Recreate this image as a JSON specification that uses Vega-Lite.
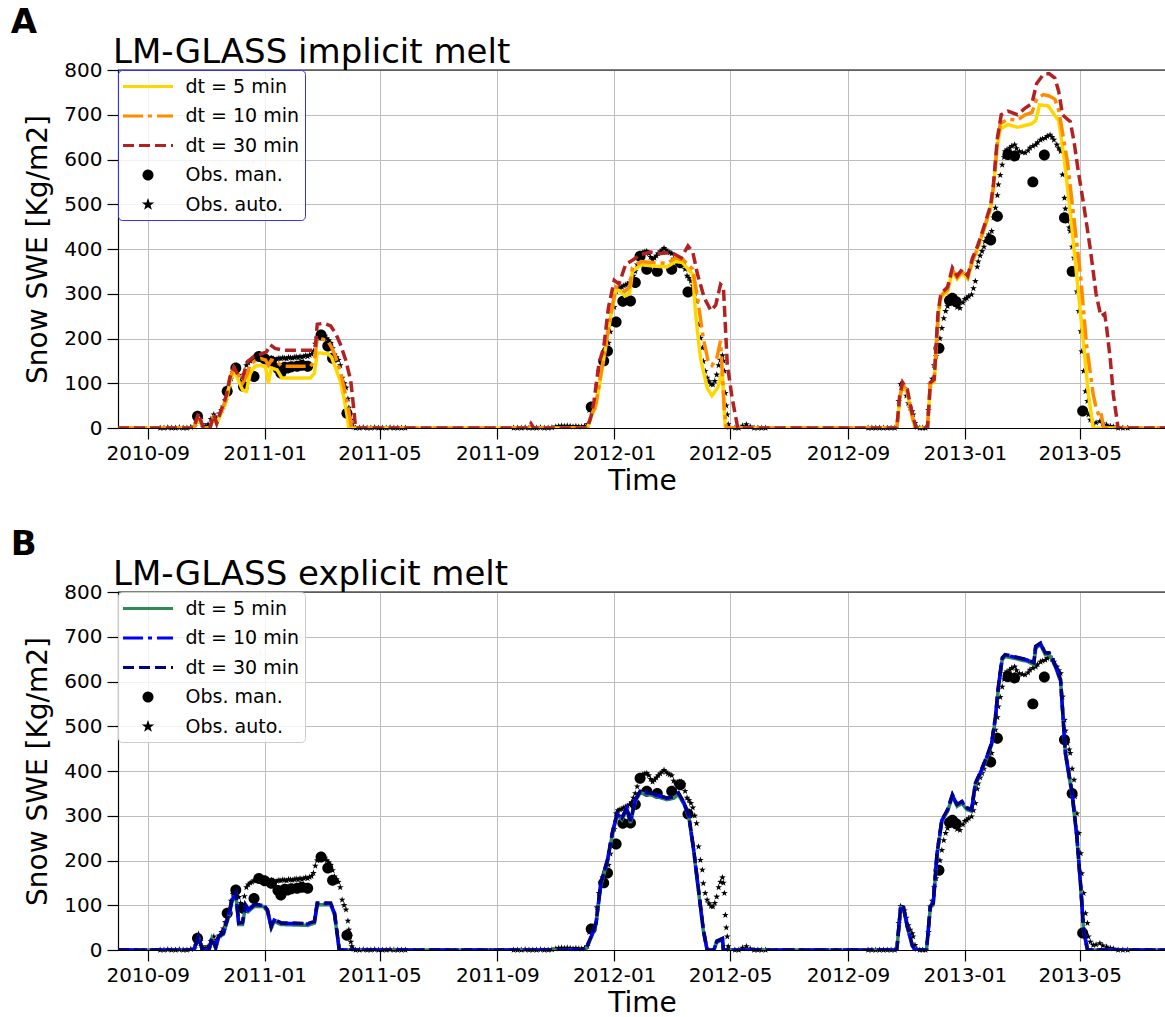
{
"$schema": "https://vega.github.io/schema/vega-lite/v6.json",
"padding": {"left": 10, "top": 6, "right": 0, "bottom": 0},
"datasets": {
"linesA": [
{"s":"dt = 5 min","t":"2010-08-01","v":0},{"s":"dt = 5 min","t":"2010-10-19","v":0},{"s":"dt = 5 min","t":"2010-10-24","v":22},{"s":"dt = 5 min","t":"2010-10-29","v":0},{"s":"dt = 5 min","t":"2010-11-05","v":0},{"s":"dt = 5 min","t":"2010-11-09","v":22},{"s":"dt = 5 min","t":"2010-11-12","v":10},{"s":"dt = 5 min","t":"2010-11-16","v":30},{"s":"dt = 5 min","t":"2010-11-22","v":60},{"s":"dt = 5 min","t":"2010-11-26","v":105},{"s":"dt = 5 min","t":"2010-11-30","v":128},{"s":"dt = 5 min","t":"2010-12-04","v":110},{"s":"dt = 5 min","t":"2010-12-09","v":85},{"s":"dt = 5 min","t":"2010-12-13","v":82},{"s":"dt = 5 min","t":"2010-12-17","v":122},{"s":"dt = 5 min","t":"2010-12-22","v":138},{"s":"dt = 5 min","t":"2010-12-28","v":140},{"s":"dt = 5 min","t":"2011-01-02","v":136},{"s":"dt = 5 min","t":"2011-01-05","v":100},{"s":"dt = 5 min","t":"2011-01-08","v":134},{"s":"dt = 5 min","t":"2011-01-14","v":130},{"s":"dt = 5 min","t":"2011-01-19","v":112},{"s":"dt = 5 min","t":"2011-02-18","v":112},{"s":"dt = 5 min","t":"2011-02-22","v":122},{"s":"dt = 5 min","t":"2011-02-25","v":168},{"s":"dt = 5 min","t":"2011-03-08","v":166},{"s":"dt = 5 min","t":"2011-03-12","v":158},{"s":"dt = 5 min","t":"2011-03-16","v":135},{"s":"dt = 5 min","t":"2011-03-21","v":105},{"s":"dt = 5 min","t":"2011-03-25","v":65},{"s":"dt = 5 min","t":"2011-03-28","v":30},{"s":"dt = 5 min","t":"2011-03-30","v":0},
{"s":"dt = 5 min","t":"2011-12-04","v":0},{"s":"dt = 5 min","t":"2011-12-08","v":25},{"s":"dt = 5 min","t":"2011-12-13","v":50},{"s":"dt = 5 min","t":"2011-12-18","v":115},{"s":"dt = 5 min","t":"2011-12-23","v":180},{"s":"dt = 5 min","t":"2011-12-28","v":245},{"s":"dt = 5 min","t":"2012-01-03","v":310},{"s":"dt = 5 min","t":"2012-01-08","v":305},{"s":"dt = 5 min","t":"2012-01-12","v":295},{"s":"dt = 5 min","t":"2012-01-17","v":300},{"s":"dt = 5 min","t":"2012-01-20","v":350},{"s":"dt = 5 min","t":"2012-01-29","v":365},{"s":"dt = 5 min","t":"2012-02-10","v":362},{"s":"dt = 5 min","t":"2012-02-25","v":360},{"s":"dt = 5 min","t":"2012-03-05","v":372},{"s":"dt = 5 min","t":"2012-03-12","v":370},{"s":"dt = 5 min","t":"2012-03-18","v":355},{"s":"dt = 5 min","t":"2012-03-23","v":343},{"s":"dt = 5 min","t":"2012-03-26","v":255},{"s":"dt = 5 min","t":"2012-03-31","v":157},{"s":"dt = 5 min","t":"2012-04-07","v":90},{"s":"dt = 5 min","t":"2012-04-12","v":72},{"s":"dt = 5 min","t":"2012-04-18","v":90},{"s":"dt = 5 min","t":"2012-04-23","v":127},{"s":"dt = 5 min","t":"2012-04-24","v":68},{"s":"dt = 5 min","t":"2012-04-26","v":0},
{"s":"dt = 5 min","t":"2012-10-22","v":0},{"s":"dt = 5 min","t":"2012-10-25","v":65},{"s":"dt = 5 min","t":"2012-10-28","v":95},{"s":"dt = 5 min","t":"2012-11-02","v":78},{"s":"dt = 5 min","t":"2012-11-07","v":25},{"s":"dt = 5 min","t":"2012-11-10","v":0},{"s":"dt = 5 min","t":"2012-11-23","v":0},{"s":"dt = 5 min","t":"2012-11-26","v":98},{"s":"dt = 5 min","t":"2012-11-30","v":103},{"s":"dt = 5 min","t":"2012-12-04","v":245},{"s":"dt = 5 min","t":"2012-12-07","v":292},{"s":"dt = 5 min","t":"2012-12-14","v":305},{"s":"dt = 5 min","t":"2012-12-19","v":350},{"s":"dt = 5 min","t":"2012-12-24","v":333},{"s":"dt = 5 min","t":"2012-12-29","v":347},{"s":"dt = 5 min","t":"2013-01-04","v":333},{"s":"dt = 5 min","t":"2013-01-09","v":372},{"s":"dt = 5 min","t":"2013-01-14","v":398},{"s":"dt = 5 min","t":"2013-01-21","v":443},{"s":"dt = 5 min","t":"2013-01-28","v":490},{"s":"dt = 5 min","t":"2013-01-31","v":538},{"s":"dt = 5 min","t":"2013-02-04","v":632},{"s":"dt = 5 min","t":"2013-02-07","v":668},{"s":"dt = 5 min","t":"2013-02-15","v":678},{"s":"dt = 5 min","t":"2013-02-25","v":672},{"s":"dt = 5 min","t":"2013-03-05","v":676},{"s":"dt = 5 min","t":"2013-03-12","v":680},{"s":"dt = 5 min","t":"2013-03-16","v":687},{"s":"dt = 5 min","t":"2013-03-20","v":722},{"s":"dt = 5 min","t":"2013-03-29","v":720},{"s":"dt = 5 min","t":"2013-04-04","v":701},{"s":"dt = 5 min","t":"2013-04-09","v":687},{"s":"dt = 5 min","t":"2013-04-15","v":597},{"s":"dt = 5 min","t":"2013-04-22","v":463},{"s":"dt = 5 min","t":"2013-04-28","v":336},{"s":"dt = 5 min","t":"2013-05-05","v":187},{"s":"dt = 5 min","t":"2013-05-10","v":75},{"s":"dt = 5 min","t":"2013-05-15","v":0},{"s":"dt = 5 min","t":"2013-07-30","v":0},
{"s":"dt = 10 min","t":"2010-08-01","v":0},{"s":"dt = 10 min","t":"2010-10-19","v":0},{"s":"dt = 10 min","t":"2010-10-24","v":28},{"s":"dt = 10 min","t":"2010-10-29","v":0},{"s":"dt = 10 min","t":"2010-11-05","v":0},{"s":"dt = 10 min","t":"2010-11-09","v":28},{"s":"dt = 10 min","t":"2010-11-12","v":12},{"s":"dt = 10 min","t":"2010-11-16","v":34},{"s":"dt = 10 min","t":"2010-11-22","v":65},{"s":"dt = 10 min","t":"2010-11-26","v":112},{"s":"dt = 10 min","t":"2010-11-30","v":135},{"s":"dt = 10 min","t":"2010-12-04","v":122},{"s":"dt = 10 min","t":"2010-12-09","v":100},{"s":"dt = 10 min","t":"2010-12-13","v":115},{"s":"dt = 10 min","t":"2010-12-17","v":142},{"s":"dt = 10 min","t":"2010-12-22","v":150},{"s":"dt = 10 min","t":"2010-12-28","v":155},{"s":"dt = 10 min","t":"2011-01-02","v":152},{"s":"dt = 10 min","t":"2011-01-05","v":140},{"s":"dt = 10 min","t":"2011-01-08","v":152},{"s":"dt = 10 min","t":"2011-01-14","v":148},{"s":"dt = 10 min","t":"2011-01-19","v":138},{"s":"dt = 10 min","t":"2011-02-18","v":138},{"s":"dt = 10 min","t":"2011-02-22","v":150},{"s":"dt = 10 min","t":"2011-02-25","v":202},{"s":"dt = 10 min","t":"2011-03-08","v":195},{"s":"dt = 10 min","t":"2011-03-12","v":180},{"s":"dt = 10 min","t":"2011-03-16","v":160},{"s":"dt = 10 min","t":"2011-03-21","v":127},{"s":"dt = 10 min","t":"2011-03-26","v":80},{"s":"dt = 10 min","t":"2011-03-30","v":37},{"s":"dt = 10 min","t":"2011-04-02","v":0},
{"s":"dt = 10 min","t":"2011-12-04","v":0},{"s":"dt = 10 min","t":"2011-12-08","v":27},{"s":"dt = 10 min","t":"2011-12-13","v":55},{"s":"dt = 10 min","t":"2011-12-18","v":120},{"s":"dt = 10 min","t":"2011-12-23","v":185},{"s":"dt = 10 min","t":"2011-12-28","v":250},{"s":"dt = 10 min","t":"2012-01-03","v":315},{"s":"dt = 10 min","t":"2012-01-08","v":312},{"s":"dt = 10 min","t":"2012-01-12","v":305},{"s":"dt = 10 min","t":"2012-01-17","v":315},{"s":"dt = 10 min","t":"2012-01-20","v":358},{"s":"dt = 10 min","t":"2012-01-29","v":372},{"s":"dt = 10 min","t":"2012-02-10","v":370},{"s":"dt = 10 min","t":"2012-02-25","v":368},{"s":"dt = 10 min","t":"2012-03-05","v":380},{"s":"dt = 10 min","t":"2012-03-12","v":378},{"s":"dt = 10 min","t":"2012-03-18","v":365},{"s":"dt = 10 min","t":"2012-03-23","v":355},{"s":"dt = 10 min","t":"2012-03-28","v":290},{"s":"dt = 10 min","t":"2012-04-03","v":200},{"s":"dt = 10 min","t":"2012-04-08","v":150},{"s":"dt = 10 min","t":"2012-04-12","v":140},{"s":"dt = 10 min","t":"2012-04-17","v":155},{"s":"dt = 10 min","t":"2012-04-21","v":195},{"s":"dt = 10 min","t":"2012-04-25","v":40},{"s":"dt = 10 min","t":"2012-04-27","v":0},
{"s":"dt = 10 min","t":"2012-10-22","v":0},{"s":"dt = 10 min","t":"2012-10-25","v":68},{"s":"dt = 10 min","t":"2012-10-28","v":98},{"s":"dt = 10 min","t":"2012-11-02","v":81},{"s":"dt = 10 min","t":"2012-11-07","v":28},{"s":"dt = 10 min","t":"2012-11-10","v":0},{"s":"dt = 10 min","t":"2012-11-23","v":0},{"s":"dt = 10 min","t":"2012-11-26","v":100},{"s":"dt = 10 min","t":"2012-11-30","v":105},{"s":"dt = 10 min","t":"2012-12-04","v":250},{"s":"dt = 10 min","t":"2012-12-07","v":296},{"s":"dt = 10 min","t":"2012-12-14","v":310},{"s":"dt = 10 min","t":"2012-12-19","v":354},{"s":"dt = 10 min","t":"2012-12-24","v":336},{"s":"dt = 10 min","t":"2012-12-29","v":350},{"s":"dt = 10 min","t":"2013-01-04","v":336},{"s":"dt = 10 min","t":"2013-01-09","v":375},{"s":"dt = 10 min","t":"2013-01-14","v":400},{"s":"dt = 10 min","t":"2013-01-21","v":446},{"s":"dt = 10 min","t":"2013-01-28","v":493},{"s":"dt = 10 min","t":"2013-01-31","v":542},{"s":"dt = 10 min","t":"2013-02-04","v":640},{"s":"dt = 10 min","t":"2013-02-07","v":680},{"s":"dt = 10 min","t":"2013-02-15","v":690},{"s":"dt = 10 min","t":"2013-02-25","v":688},{"s":"dt = 10 min","t":"2013-03-05","v":700},{"s":"dt = 10 min","t":"2013-03-12","v":705},{"s":"dt = 10 min","t":"2013-03-17","v":735},{"s":"dt = 10 min","t":"2013-03-24","v":745},{"s":"dt = 10 min","t":"2013-03-30","v":742},{"s":"dt = 10 min","t":"2013-04-05","v":735},{"s":"dt = 10 min","t":"2013-04-09","v":710},{"s":"dt = 10 min","t":"2013-04-18","v":597},{"s":"dt = 10 min","t":"2013-04-24","v":485},{"s":"dt = 10 min","t":"2013-05-02","v":336},{"s":"dt = 10 min","t":"2013-05-08","v":187},{"s":"dt = 10 min","t":"2013-05-15","v":75},{"s":"dt = 10 min","t":"2013-05-18","v":45},{"s":"dt = 10 min","t":"2013-05-21","v":28},{"s":"dt = 10 min","t":"2013-05-23","v":35},{"s":"dt = 10 min","t":"2013-05-26","v":0},{"s":"dt = 10 min","t":"2013-07-30","v":0},
{"s":"dt = 30 min","t":"2010-08-01","v":0},{"s":"dt = 30 min","t":"2010-10-19","v":0},{"s":"dt = 30 min","t":"2010-10-24","v":33},{"s":"dt = 30 min","t":"2010-10-29","v":0},{"s":"dt = 30 min","t":"2010-11-05","v":0},{"s":"dt = 30 min","t":"2010-11-09","v":30},{"s":"dt = 30 min","t":"2010-11-12","v":10},{"s":"dt = 30 min","t":"2010-11-16","v":36},{"s":"dt = 30 min","t":"2010-11-22","v":72},{"s":"dt = 30 min","t":"2010-11-26","v":115},{"s":"dt = 30 min","t":"2010-11-30","v":135},{"s":"dt = 30 min","t":"2010-12-04","v":120},{"s":"dt = 30 min","t":"2010-12-09","v":112},{"s":"dt = 30 min","t":"2010-12-14","v":148},{"s":"dt = 30 min","t":"2010-12-21","v":160},{"s":"dt = 30 min","t":"2010-12-28","v":165},{"s":"dt = 30 min","t":"2011-01-03","v":170},{"s":"dt = 30 min","t":"2011-01-07","v":186},{"s":"dt = 30 min","t":"2011-01-12","v":178},{"s":"dt = 30 min","t":"2011-01-20","v":174},{"s":"dt = 30 min","t":"2011-02-20","v":174},{"s":"dt = 30 min","t":"2011-02-23","v":180},{"s":"dt = 30 min","t":"2011-02-25","v":232},{"s":"dt = 30 min","t":"2011-03-04","v":234},{"s":"dt = 30 min","t":"2011-03-11","v":228},{"s":"dt = 30 min","t":"2011-03-16","v":212},{"s":"dt = 30 min","t":"2011-03-21","v":188},{"s":"dt = 30 min","t":"2011-03-27","v":150},{"s":"dt = 30 min","t":"2011-04-01","v":105},{"s":"dt = 30 min","t":"2011-04-04","v":45},{"s":"dt = 30 min","t":"2011-04-06","v":0},{"s":"dt = 30 min","t":"2011-10-03","v":0},{"s":"dt = 30 min","t":"2011-10-06","v":10},{"s":"dt = 30 min","t":"2011-10-09","v":0},
{"s":"dt = 30 min","t":"2011-12-04","v":0},{"s":"dt = 30 min","t":"2011-12-08","v":28},{"s":"dt = 30 min","t":"2011-12-11","v":62},{"s":"dt = 30 min","t":"2011-12-16","v":143},{"s":"dt = 30 min","t":"2011-12-21","v":180},{"s":"dt = 30 min","t":"2011-12-26","v":269},{"s":"dt = 30 min","t":"2012-01-01","v":330},{"s":"dt = 30 min","t":"2012-01-06","v":322},{"s":"dt = 30 min","t":"2012-01-13","v":366},{"s":"dt = 30 min","t":"2012-01-20","v":375},{"s":"dt = 30 min","t":"2012-01-29","v":388},{"s":"dt = 30 min","t":"2012-02-08","v":393},{"s":"dt = 30 min","t":"2012-02-19","v":390},{"s":"dt = 30 min","t":"2012-03-01","v":392},{"s":"dt = 30 min","t":"2012-03-11","v":380},{"s":"dt = 30 min","t":"2012-03-18","v":407},{"s":"dt = 30 min","t":"2012-03-23","v":393},{"s":"dt = 30 min","t":"2012-03-28","v":343},{"s":"dt = 30 min","t":"2012-04-04","v":291},{"s":"dt = 30 min","t":"2012-04-11","v":262},{"s":"dt = 30 min","t":"2012-04-16","v":275},{"s":"dt = 30 min","t":"2012-04-21","v":321},{"s":"dt = 30 min","t":"2012-04-24","v":315},{"s":"dt = 30 min","t":"2012-04-28","v":143},{"s":"dt = 30 min","t":"2012-05-03","v":68},{"s":"dt = 30 min","t":"2012-05-09","v":0},
{"s":"dt = 30 min","t":"2012-10-22","v":0},{"s":"dt = 30 min","t":"2012-10-25","v":72},{"s":"dt = 30 min","t":"2012-10-28","v":102},{"s":"dt = 30 min","t":"2012-11-02","v":86},{"s":"dt = 30 min","t":"2012-11-07","v":32},{"s":"dt = 30 min","t":"2012-11-11","v":0},{"s":"dt = 30 min","t":"2012-11-23","v":0},{"s":"dt = 30 min","t":"2012-11-26","v":102},{"s":"dt = 30 min","t":"2012-11-30","v":108},{"s":"dt = 30 min","t":"2012-12-04","v":258},{"s":"dt = 30 min","t":"2012-12-07","v":300},{"s":"dt = 30 min","t":"2012-12-14","v":315},{"s":"dt = 30 min","t":"2012-12-19","v":358},{"s":"dt = 30 min","t":"2012-12-24","v":340},{"s":"dt = 30 min","t":"2012-12-29","v":354},{"s":"dt = 30 min","t":"2013-01-04","v":340},{"s":"dt = 30 min","t":"2013-01-09","v":380},{"s":"dt = 30 min","t":"2013-01-14","v":405},{"s":"dt = 30 min","t":"2013-01-21","v":450},{"s":"dt = 30 min","t":"2013-01-28","v":498},{"s":"dt = 30 min","t":"2013-01-31","v":548},{"s":"dt = 30 min","t":"2013-02-04","v":648},{"s":"dt = 30 min","t":"2013-02-08","v":700},{"s":"dt = 30 min","t":"2013-02-15","v":708},{"s":"dt = 30 min","t":"2013-02-25","v":700},{"s":"dt = 30 min","t":"2013-03-05","v":715},{"s":"dt = 30 min","t":"2013-03-12","v":725},{"s":"dt = 30 min","t":"2013-03-17","v":770},{"s":"dt = 30 min","t":"2013-03-24","v":790},{"s":"dt = 30 min","t":"2013-03-30","v":792},{"s":"dt = 30 min","t":"2013-04-05","v":782},{"s":"dt = 30 min","t":"2013-04-09","v":752},{"s":"dt = 30 min","t":"2013-04-13","v":700},{"s":"dt = 30 min","t":"2013-04-18","v":690},{"s":"dt = 30 min","t":"2013-04-21","v":685},{"s":"dt = 30 min","t":"2013-04-25","v":640},{"s":"dt = 30 min","t":"2013-04-29","v":580},{"s":"dt = 30 min","t":"2013-05-05","v":500},{"s":"dt = 30 min","t":"2013-05-12","v":400},{"s":"dt = 30 min","t":"2013-05-18","v":300},{"s":"dt = 30 min","t":"2013-05-23","v":250},{"s":"dt = 30 min","t":"2013-05-27","v":255},{"s":"dt = 30 min","t":"2013-05-29","v":225},{"s":"dt = 30 min","t":"2013-06-02","v":150},{"s":"dt = 30 min","t":"2013-06-05","v":75},{"s":"dt = 30 min","t":"2013-06-10","v":0},{"s":"dt = 30 min","t":"2013-07-30","v":0}
],
"linesB": [
{"t":"2010-08-01","dt = 5 min":0,"dt = 10 min":0,"dt = 30 min":0},
{"t":"2010-10-19","dt = 5 min":0,"dt = 10 min":0,"dt = 30 min":0},
{"t":"2010-10-24","dt = 5 min":28,"dt = 10 min":30,"dt = 30 min":31},
{"t":"2010-10-28","dt = 5 min":0,"dt = 10 min":0,"dt = 30 min":0},
{"t":"2010-11-04","dt = 5 min":0,"dt = 10 min":0,"dt = 30 min":0},
{"t":"2010-11-07","dt = 5 min":25,"dt = 10 min":27,"dt = 30 min":28},
{"t":"2010-11-11","dt = 5 min":4,"dt = 10 min":5,"dt = 30 min":5},
{"t":"2010-11-14","dt = 5 min":28,"dt = 10 min":30,"dt = 30 min":31},
{"t":"2010-11-19","dt = 5 min":35,"dt = 10 min":37,"dt = 30 min":38},
{"t":"2010-11-25","dt = 5 min":78,"dt = 10 min":82,"dt = 30 min":83},
{"t":"2010-11-28","dt = 5 min":108,"dt = 10 min":112,"dt = 30 min":113},
{"t":"2010-12-02","dt = 5 min":124,"dt = 10 min":127,"dt = 30 min":128},
{"t":"2010-12-05","dt = 5 min":57,"dt = 10 min":60,"dt = 30 min":61},
{"t":"2010-12-09","dt = 5 min":57,"dt = 10 min":60,"dt = 30 min":61},
{"t":"2010-12-12","dt = 5 min":97,"dt = 10 min":100,"dt = 30 min":101},
{"t":"2010-12-15","dt = 5 min":86,"dt = 10 min":89,"dt = 30 min":90},
{"t":"2010-12-21","dt = 5 min":97,"dt = 10 min":100,"dt = 30 min":101},
{"t":"2010-12-31","dt = 5 min":97,"dt = 10 min":100,"dt = 30 min":101},
{"t":"2011-01-04","dt = 5 min":86,"dt = 10 min":89,"dt = 30 min":90},
{"t":"2011-01-08","dt = 5 min":49,"dt = 10 min":52,"dt = 30 min":53},
{"t":"2011-01-11","dt = 5 min":64,"dt = 10 min":67,"dt = 30 min":68},
{"t":"2011-01-18","dt = 5 min":57,"dt = 10 min":60,"dt = 30 min":61},
{"t":"2011-02-15","dt = 5 min":55,"dt = 10 min":58,"dt = 30 min":59},
{"t":"2011-02-22","dt = 5 min":60,"dt = 10 min":63,"dt = 30 min":64},
{"t":"2011-02-25","dt = 5 min":101,"dt = 10 min":104,"dt = 30 min":105},
{"t":"2011-03-11","dt = 5 min":101,"dt = 10 min":104,"dt = 30 min":105},
{"t":"2011-03-15","dt = 5 min":79,"dt = 10 min":82,"dt = 30 min":83},
{"t":"2011-03-20","dt = 5 min":0,"dt = 10 min":0,"dt = 30 min":0},
{"t":"2011-12-02","dt = 5 min":0,"dt = 10 min":0,"dt = 30 min":0},
{"t":"2011-12-08","dt = 5 min":28,"dt = 10 min":30,"dt = 30 min":31},
{"t":"2011-12-13","dt = 5 min":57,"dt = 10 min":60,"dt = 30 min":61},
{"t":"2011-12-18","dt = 5 min":145,"dt = 10 min":149,"dt = 30 min":150},
{"t":"2011-12-25","dt = 5 min":198,"dt = 10 min":201,"dt = 30 min":202},
{"t":"2011-12-30","dt = 5 min":258,"dt = 10 min":261,"dt = 30 min":262},
{"t":"2012-01-04","dt = 5 min":302,"dt = 10 min":305,"dt = 30 min":306},
{"t":"2012-01-09","dt = 5 min":291,"dt = 10 min":294,"dt = 30 min":295},
{"t":"2012-01-14","dt = 5 min":314,"dt = 10 min":317,"dt = 30 min":318},
{"t":"2012-01-18","dt = 5 min":284,"dt = 10 min":287,"dt = 30 min":288},
{"t":"2012-01-23","dt = 5 min":332,"dt = 10 min":335,"dt = 30 min":336},
{"t":"2012-01-28","dt = 5 min":351,"dt = 10 min":354,"dt = 30 min":355},
{"t":"2012-02-11","dt = 5 min":345,"dt = 10 min":348,"dt = 30 min":349},
{"t":"2012-02-25","dt = 5 min":336,"dt = 10 min":339,"dt = 30 min":340},
{"t":"2012-03-03","dt = 5 min":339,"dt = 10 min":342,"dt = 30 min":343},
{"t":"2012-03-08","dt = 5 min":347,"dt = 10 min":350,"dt = 30 min":351},
{"t":"2012-03-14","dt = 5 min":325,"dt = 10 min":328,"dt = 30 min":329},
{"t":"2012-03-19","dt = 5 min":295,"dt = 10 min":298,"dt = 30 min":299},
{"t":"2012-03-24","dt = 5 min":220,"dt = 10 min":223,"dt = 30 min":224},
{"t":"2012-03-29","dt = 5 min":131,"dt = 10 min":134,"dt = 30 min":135},
{"t":"2012-04-03","dt = 5 min":43,"dt = 10 min":45,"dt = 30 min":46},
{"t":"2012-04-07","dt = 5 min":0,"dt = 10 min":0,"dt = 30 min":0},
{"t":"2012-04-14","dt = 5 min":0,"dt = 10 min":0,"dt = 30 min":0},
{"t":"2012-04-17","dt = 5 min":17,"dt = 10 min":19,"dt = 30 min":20},
{"t":"2012-04-23","dt = 5 min":23,"dt = 10 min":25,"dt = 30 min":26},
{"t":"2012-04-24","dt = 5 min":0,"dt = 10 min":0,"dt = 30 min":0},
{"t":"2012-10-22","dt = 5 min":0,"dt = 10 min":0,"dt = 30 min":0},
{"t":"2012-10-26","dt = 5 min":95,"dt = 10 min":97,"dt = 30 min":98},
{"t":"2012-10-29","dt = 5 min":93,"dt = 10 min":95,"dt = 30 min":96},
{"t":"2012-11-02","dt = 5 min":50,"dt = 10 min":52,"dt = 30 min":53},
{"t":"2012-11-07","dt = 5 min":10,"dt = 10 min":11,"dt = 30 min":12},
{"t":"2012-11-10","dt = 5 min":0,"dt = 10 min":0,"dt = 30 min":0},
{"t":"2012-11-22","dt = 5 min":0,"dt = 10 min":0,"dt = 30 min":0},
{"t":"2012-11-26","dt = 5 min":95,"dt = 10 min":97,"dt = 30 min":98},
{"t":"2012-11-29","dt = 5 min":101,"dt = 10 min":104,"dt = 30 min":105},
{"t":"2012-12-03","dt = 5 min":213,"dt = 10 min":216,"dt = 30 min":217},
{"t":"2012-12-08","dt = 5 min":287,"dt = 10 min":290,"dt = 30 min":291},
{"t":"2012-12-14","dt = 5 min":310,"dt = 10 min":313,"dt = 30 min":314},
{"t":"2012-12-19","dt = 5 min":343,"dt = 10 min":346,"dt = 30 min":347},
{"t":"2012-12-24","dt = 5 min":321,"dt = 10 min":324,"dt = 30 min":325},
{"t":"2012-12-29","dt = 5 min":328,"dt = 10 min":331,"dt = 30 min":332},
{"t":"2013-01-03","dt = 5 min":314,"dt = 10 min":317,"dt = 30 min":318},
{"t":"2013-01-08","dt = 5 min":310,"dt = 10 min":313,"dt = 30 min":314},
{"t":"2013-01-12","dt = 5 min":369,"dt = 10 min":372,"dt = 30 min":373},
{"t":"2013-01-17","dt = 5 min":392,"dt = 10 min":395,"dt = 30 min":396},
{"t":"2013-01-24","dt = 5 min":429,"dt = 10 min":432,"dt = 30 min":433},
{"t":"2013-01-29","dt = 5 min":459,"dt = 10 min":462,"dt = 30 min":463},
{"t":"2013-02-02","dt = 5 min":518,"dt = 10 min":521,"dt = 30 min":522},
{"t":"2013-02-05","dt = 5 min":585,"dt = 10 min":588,"dt = 30 min":589},
{"t":"2013-02-09","dt = 5 min":649,"dt = 10 min":652,"dt = 30 min":653},
{"t":"2013-02-12","dt = 5 min":656,"dt = 10 min":659,"dt = 30 min":660},
{"t":"2013-02-21","dt = 5 min":652,"dt = 10 min":655,"dt = 30 min":656},
{"t":"2013-03-07","dt = 5 min":645,"dt = 10 min":648,"dt = 30 min":649},
{"t":"2013-03-14","dt = 5 min":638,"dt = 10 min":641,"dt = 30 min":642},
{"t":"2013-03-16","dt = 5 min":675,"dt = 10 min":678,"dt = 30 min":679},
{"t":"2013-03-21","dt = 5 min":682,"dt = 10 min":685,"dt = 30 min":686},
{"t":"2013-03-26","dt = 5 min":660,"dt = 10 min":663,"dt = 30 min":664},
{"t":"2013-03-30","dt = 5 min":660,"dt = 10 min":663,"dt = 30 min":664},
{"t":"2013-04-02","dt = 5 min":649,"dt = 10 min":652,"dt = 30 min":653},
{"t":"2013-04-06","dt = 5 min":630,"dt = 10 min":633,"dt = 30 min":634},
{"t":"2013-04-11","dt = 5 min":600,"dt = 10 min":603,"dt = 30 min":604},
{"t":"2013-04-16","dt = 5 min":437,"dt = 10 min":440,"dt = 30 min":441},
{"t":"2013-04-23","dt = 5 min":347,"dt = 10 min":350,"dt = 30 min":351},
{"t":"2013-04-28","dt = 5 min":250,"dt = 10 min":253,"dt = 30 min":254},
{"t":"2013-05-02","dt = 5 min":138,"dt = 10 min":141,"dt = 30 min":142},
{"t":"2013-05-05","dt = 5 min":43,"dt = 10 min":45,"dt = 30 min":46},
{"t":"2013-05-09","dt = 5 min":0,"dt = 10 min":0,"dt = 30 min":0},
{"t":"2013-07-30","dt = 5 min":0,"dt = 10 min":0,"dt = 30 min":0}
],
"obs": [
{"s":"Obs. man.","t":"2010-10-23","v":26},{"s":"Obs. man.","t":"2010-11-23","v":82},{"s":"Obs. man.","t":"2010-12-02","v":134},{"s":"Obs. man.","t":"2010-12-10","v":93},{"s":"Obs. man.","t":"2010-12-21","v":115},{"s":"Obs. man.","t":"2010-12-26","v":160},{"s":"Obs. man.","t":"2011-01-01","v":155},{"s":"Obs. man.","t":"2011-01-08","v":149},{"s":"Obs. man.","t":"2011-01-15","v":133},{"s":"Obs. man.","t":"2011-01-18","v":123},{"s":"Obs. man.","t":"2011-01-22","v":136},{"s":"Obs. man.","t":"2011-01-25","v":134},{"s":"Obs. man.","t":"2011-01-29","v":137},{"s":"Obs. man.","t":"2011-02-04","v":138},{"s":"Obs. man.","t":"2011-02-09","v":140},{"s":"Obs. man.","t":"2011-02-15","v":138},{"s":"Obs. man.","t":"2011-03-01","v":208},{"s":"Obs. man.","t":"2011-03-08","v":183},{"s":"Obs. man.","t":"2011-03-13","v":156},{"s":"Obs. man.","t":"2011-03-28","v":33},
{"s":"Obs. man.","t":"2011-12-08","v":47},{"s":"Obs. man.","t":"2011-12-21","v":150},{"s":"Obs. man.","t":"2011-12-25","v":172},{"s":"Obs. man.","t":"2012-01-03","v":237},{"s":"Obs. man.","t":"2012-01-10","v":283},{"s":"Obs. man.","t":"2012-01-18","v":284},{"s":"Obs. man.","t":"2012-01-23","v":325},{"s":"Obs. man.","t":"2012-01-28","v":384},{"s":"Obs. man.","t":"2012-02-04","v":355},{"s":"Obs. man.","t":"2012-02-15","v":350},{"s":"Obs. man.","t":"2012-03-01","v":355},{"s":"Obs. man.","t":"2012-03-10","v":369},{"s":"Obs. man.","t":"2012-03-18","v":304},
{"s":"Obs. man.","t":"2012-12-05","v":178},{"s":"Obs. man.","t":"2012-12-16","v":285},{"s":"Obs. man.","t":"2012-12-19","v":290},{"s":"Obs. man.","t":"2012-12-23","v":282},{"s":"Obs. man.","t":"2013-01-28","v":420},{"s":"Obs. man.","t":"2013-02-04","v":473},{"s":"Obs. man.","t":"2013-02-15","v":611},{"s":"Obs. man.","t":"2013-02-22","v":608},{"s":"Obs. man.","t":"2013-03-13","v":550},{"s":"Obs. man.","t":"2013-03-25","v":610},{"s":"Obs. man.","t":"2013-04-15","v":470},{"s":"Obs. man.","t":"2013-04-23","v":350},{"s":"Obs. man.","t":"2013-05-04","v":38},
{"s":"Obs. auto.","t":"2010-09-14","v":0},{"s":"Obs. auto.","t":"2010-09-18","v":0},{"s":"Obs. auto.","t":"2010-09-22","v":1},{"s":"Obs. auto.","t":"2010-09-26","v":0},{"s":"Obs. auto.","t":"2010-09-30","v":0},{"s":"Obs. auto.","t":"2010-10-04","v":1},{"s":"Obs. auto.","t":"2010-10-08","v":0},{"s":"Obs. auto.","t":"2010-10-12","v":0},{"s":"Obs. auto.","t":"2010-10-16","v":2},
{"s":"Obs. auto.","t":"2010-10-20","v":3},{"s":"Obs. auto.","t":"2010-10-22","v":15},{"s":"Obs. auto.","t":"2010-10-24","v":28},{"s":"Obs. auto.","t":"2010-10-26","v":20},{"s":"Obs. auto.","t":"2010-10-28","v":8},{"s":"Obs. auto.","t":"2010-10-31","v":4},{"s":"Obs. auto.","t":"2010-11-03","v":8},{"s":"Obs. auto.","t":"2010-11-06","v":20},{"s":"Obs. auto.","t":"2010-11-09","v":30},{"s":"Obs. auto.","t":"2010-11-12","v":22},{"s":"Obs. auto.","t":"2010-11-15","v":32},{"s":"Obs. auto.","t":"2010-11-17","v":40},{"s":"Obs. auto.","t":"2010-11-19","v":48},{"s":"Obs. auto.","t":"2010-11-21","v":62},{"s":"Obs. auto.","t":"2010-11-23","v":75},{"s":"Obs. auto.","t":"2010-11-25","v":90},{"s":"Obs. auto.","t":"2010-11-27","v":110},{"s":"Obs. auto.","t":"2010-11-29","v":125},{"s":"Obs. auto.","t":"2010-12-01","v":133},{"s":"Obs. auto.","t":"2010-12-03","v":130},{"s":"Obs. auto.","t":"2010-12-05","v":118},{"s":"Obs. auto.","t":"2010-12-07","v":105},{"s":"Obs. auto.","t":"2010-12-09","v":100},{"s":"Obs. auto.","t":"2010-12-11","v":120},{"s":"Obs. auto.","t":"2010-12-13","v":140},{"s":"Obs. auto.","t":"2010-12-15","v":146},{"s":"Obs. auto.","t":"2010-12-17","v":150},{"s":"Obs. auto.","t":"2010-12-19","v":152},{"s":"Obs. auto.","t":"2010-12-21","v":155},{"s":"Obs. auto.","t":"2010-12-23","v":155},{"s":"Obs. auto.","t":"2010-12-25","v":158},{"s":"Obs. auto.","t":"2010-12-27","v":160},{"s":"Obs. auto.","t":"2010-12-29","v":157},{"s":"Obs. auto.","t":"2010-12-31","v":155},
{"s":"Obs. auto.","t":"2011-01-02","v":152},{"s":"Obs. auto.","t":"2011-01-04","v":150},{"s":"Obs. auto.","t":"2011-01-06","v":153},{"s":"Obs. auto.","t":"2011-01-08","v":156},{"s":"Obs. auto.","t":"2011-01-10","v":155},{"s":"Obs. auto.","t":"2011-01-12","v":152},{"s":"Obs. auto.","t":"2011-01-14","v":154},{"s":"Obs. auto.","t":"2011-01-16","v":156},{"s":"Obs. auto.","t":"2011-01-18","v":155},{"s":"Obs. auto.","t":"2011-01-20","v":157},{"s":"Obs. auto.","t":"2011-01-22","v":156},{"s":"Obs. auto.","t":"2011-01-24","v":155},{"s":"Obs. auto.","t":"2011-01-26","v":158},{"s":"Obs. auto.","t":"2011-01-28","v":157},{"s":"Obs. auto.","t":"2011-01-30","v":156},{"s":"Obs. auto.","t":"2011-02-01","v":158},{"s":"Obs. auto.","t":"2011-02-03","v":159},{"s":"Obs. auto.","t":"2011-02-05","v":157},{"s":"Obs. auto.","t":"2011-02-07","v":160},{"s":"Obs. auto.","t":"2011-02-09","v":158},{"s":"Obs. auto.","t":"2011-02-11","v":160},{"s":"Obs. auto.","t":"2011-02-13","v":162},{"s":"Obs. auto.","t":"2011-02-15","v":160},{"s":"Obs. auto.","t":"2011-02-17","v":163},{"s":"Obs. auto.","t":"2011-02-19","v":165},{"s":"Obs. auto.","t":"2011-02-21","v":172},{"s":"Obs. auto.","t":"2011-02-23","v":188},{"s":"Obs. auto.","t":"2011-02-25","v":200},{"s":"Obs. auto.","t":"2011-02-27","v":208},{"s":"Obs. auto.","t":"2011-03-01","v":211},{"s":"Obs. auto.","t":"2011-03-03","v":209},{"s":"Obs. auto.","t":"2011-03-05","v":206},{"s":"Obs. auto.","t":"2011-03-07","v":200},{"s":"Obs. auto.","t":"2011-03-09","v":196},{"s":"Obs. auto.","t":"2011-03-11","v":190},{"s":"Obs. auto.","t":"2011-03-13","v":178},{"s":"Obs. auto.","t":"2011-03-15","v":164},{"s":"Obs. auto.","t":"2011-03-17","v":158},{"s":"Obs. auto.","t":"2011-03-19","v":152},{"s":"Obs. auto.","t":"2011-03-21","v":140},{"s":"Obs. auto.","t":"2011-03-23","v":112},{"s":"Obs. auto.","t":"2011-03-25","v":100},{"s":"Obs. auto.","t":"2011-03-27","v":90},{"s":"Obs. auto.","t":"2011-03-29","v":65},{"s":"Obs. auto.","t":"2011-03-30","v":45},{"s":"Obs. auto.","t":"2011-03-31","v":30},{"s":"Obs. auto.","t":"2011-04-01","v":18},{"s":"Obs. auto.","t":"2011-04-02","v":8},{"s":"Obs. auto.","t":"2011-04-04","v":2},
{"s":"Obs. auto.","t":"2011-01-13","v":140},{"s":"Obs. auto.","t":"2011-01-17","v":136},{"s":"Obs. auto.","t":"2011-01-21","v":138},{"s":"Obs. auto.","t":"2011-01-27","v":137},{"s":"Obs. auto.","t":"2011-02-01","v":139},{"s":"Obs. auto.","t":"2011-02-06","v":138},{"s":"Obs. auto.","t":"2011-02-10","v":141},{"s":"Obs. auto.","t":"2011-02-14","v":139},
{"s":"Obs. auto.","t":"2011-04-06","v":0},{"s":"Obs. auto.","t":"2011-04-10","v":0},{"s":"Obs. auto.","t":"2011-04-14","v":1},{"s":"Obs. auto.","t":"2011-04-18","v":0},{"s":"Obs. auto.","t":"2011-04-22","v":0},{"s":"Obs. auto.","t":"2011-04-26","v":1},{"s":"Obs. auto.","t":"2011-04-30","v":0},{"s":"Obs. auto.","t":"2011-05-04","v":0},{"s":"Obs. auto.","t":"2011-05-08","v":0},{"s":"Obs. auto.","t":"2011-05-12","v":1},{"s":"Obs. auto.","t":"2011-05-16","v":0},{"s":"Obs. auto.","t":"2011-05-20","v":0},{"s":"Obs. auto.","t":"2011-05-24","v":0},{"s":"Obs. auto.","t":"2011-05-28","v":0},
{"s":"Obs. auto.","t":"2011-09-18","v":0},{"s":"Obs. auto.","t":"2011-09-22","v":0},{"s":"Obs. auto.","t":"2011-09-26","v":0},{"s":"Obs. auto.","t":"2011-09-30","v":1},{"s":"Obs. auto.","t":"2011-10-04","v":0},{"s":"Obs. auto.","t":"2011-10-08","v":0},{"s":"Obs. auto.","t":"2011-10-12","v":0},{"s":"Obs. auto.","t":"2011-10-16","v":1},{"s":"Obs. auto.","t":"2011-10-20","v":0},{"s":"Obs. auto.","t":"2011-10-24","v":0},{"s":"Obs. auto.","t":"2011-10-28","v":1},{"s":"Obs. auto.","t":"2011-11-01","v":3},{"s":"Obs. auto.","t":"2011-11-04","v":4},{"s":"Obs. auto.","t":"2011-11-07","v":5},{"s":"Obs. auto.","t":"2011-11-10","v":4},{"s":"Obs. auto.","t":"2011-11-13","v":5},{"s":"Obs. auto.","t":"2011-11-16","v":4},{"s":"Obs. auto.","t":"2011-11-19","v":3},{"s":"Obs. auto.","t":"2011-11-22","v":4},{"s":"Obs. auto.","t":"2011-11-25","v":3},{"s":"Obs. auto.","t":"2011-11-28","v":3},{"s":"Obs. auto.","t":"2011-12-01","v":4},
{"s":"Obs. auto.","t":"2011-12-04","v":8},{"s":"Obs. auto.","t":"2011-12-06","v":40},{"s":"Obs. auto.","t":"2011-12-08","v":48},{"s":"Obs. auto.","t":"2011-12-10","v":52},{"s":"Obs. auto.","t":"2011-12-12","v":55},{"s":"Obs. auto.","t":"2011-12-14","v":95},{"s":"Obs. auto.","t":"2011-12-16","v":127},{"s":"Obs. auto.","t":"2011-12-18","v":150},{"s":"Obs. auto.","t":"2011-12-20","v":162},{"s":"Obs. auto.","t":"2011-12-22","v":168},{"s":"Obs. auto.","t":"2011-12-24","v":172},{"s":"Obs. auto.","t":"2011-12-26","v":190},{"s":"Obs. auto.","t":"2011-12-28","v":215},{"s":"Obs. auto.","t":"2011-12-30","v":232},{"s":"Obs. auto.","t":"2012-01-01","v":270},{"s":"Obs. auto.","t":"2012-01-03","v":305},{"s":"Obs. auto.","t":"2012-01-05","v":312},{"s":"Obs. auto.","t":"2012-01-07","v":314},{"s":"Obs. auto.","t":"2012-01-09","v":315},{"s":"Obs. auto.","t":"2012-01-11","v":318},{"s":"Obs. auto.","t":"2012-01-13","v":320},{"s":"Obs. auto.","t":"2012-01-15","v":322},{"s":"Obs. auto.","t":"2012-01-17","v":325},{"s":"Obs. auto.","t":"2012-01-19","v":330},{"s":"Obs. auto.","t":"2012-01-21","v":340},{"s":"Obs. auto.","t":"2012-01-23","v":350},{"s":"Obs. auto.","t":"2012-01-25","v":365},{"s":"Obs. auto.","t":"2012-01-27","v":380},{"s":"Obs. auto.","t":"2012-01-29","v":388},{"s":"Obs. auto.","t":"2012-01-31","v":392},{"s":"Obs. auto.","t":"2012-02-02","v":394},{"s":"Obs. auto.","t":"2012-02-04","v":395},{"s":"Obs. auto.","t":"2012-02-06","v":390},{"s":"Obs. auto.","t":"2012-02-08","v":382},{"s":"Obs. auto.","t":"2012-02-10","v":376},{"s":"Obs. auto.","t":"2012-02-12","v":380},{"s":"Obs. auto.","t":"2012-02-14","v":385},{"s":"Obs. auto.","t":"2012-02-16","v":390},{"s":"Obs. auto.","t":"2012-02-18","v":394},{"s":"Obs. auto.","t":"2012-02-20","v":398},{"s":"Obs. auto.","t":"2012-02-22","v":402},{"s":"Obs. auto.","t":"2012-02-24","v":398},{"s":"Obs. auto.","t":"2012-02-26","v":394},{"s":"Obs. auto.","t":"2012-02-28","v":392},{"s":"Obs. auto.","t":"2012-03-01","v":390},{"s":"Obs. auto.","t":"2012-03-03","v":378},{"s":"Obs. auto.","t":"2012-03-05","v":372},{"s":"Obs. auto.","t":"2012-03-07","v":375},{"s":"Obs. auto.","t":"2012-03-09","v":376},{"s":"Obs. auto.","t":"2012-03-11","v":376},{"s":"Obs. auto.","t":"2012-03-13","v":370},{"s":"Obs. auto.","t":"2012-03-15","v":355},{"s":"Obs. auto.","t":"2012-03-17","v":340},{"s":"Obs. auto.","t":"2012-03-19","v":335},{"s":"Obs. auto.","t":"2012-03-21","v":328},{"s":"Obs. auto.","t":"2012-03-23","v":318},{"s":"Obs. auto.","t":"2012-03-25","v":300},{"s":"Obs. auto.","t":"2012-03-27","v":283},{"s":"Obs. auto.","t":"2012-03-29","v":231},{"s":"Obs. auto.","t":"2012-03-31","v":201},{"s":"Obs. auto.","t":"2012-04-02","v":179},{"s":"Obs. auto.","t":"2012-04-03","v":149},{"s":"Obs. auto.","t":"2012-04-05","v":127},{"s":"Obs. auto.","t":"2012-04-07","v":112},{"s":"Obs. auto.","t":"2012-04-09","v":104},{"s":"Obs. auto.","t":"2012-04-11","v":98},{"s":"Obs. auto.","t":"2012-04-13","v":97},{"s":"Obs. auto.","t":"2012-04-15","v":105},{"s":"Obs. auto.","t":"2012-04-17","v":119},{"s":"Obs. auto.","t":"2012-04-19","v":140},{"s":"Obs. auto.","t":"2012-04-21","v":152},{"s":"Obs. auto.","t":"2012-04-23","v":162},{"s":"Obs. auto.","t":"2012-04-24","v":150},{"s":"Obs. auto.","t":"2012-04-25","v":127},{"s":"Obs. auto.","t":"2012-04-26","v":78},{"s":"Obs. auto.","t":"2012-04-27","v":50},{"s":"Obs. auto.","t":"2012-04-28","v":30},{"s":"Obs. auto.","t":"2012-04-29","v":8},{"s":"Obs. auto.","t":"2012-04-30","v":2},
{"s":"Obs. auto.","t":"2012-05-06","v":0},{"s":"Obs. auto.","t":"2012-05-10","v":0},{"s":"Obs. auto.","t":"2012-05-14","v":5},{"s":"Obs. auto.","t":"2012-05-18","v":8},{"s":"Obs. auto.","t":"2012-05-22","v":3},{"s":"Obs. auto.","t":"2012-05-26","v":0},{"s":"Obs. auto.","t":"2012-05-30","v":0},{"s":"Obs. auto.","t":"2012-06-03","v":0},{"s":"Obs. auto.","t":"2012-06-07","v":0},
{"s":"Obs. auto.","t":"2012-09-22","v":0},{"s":"Obs. auto.","t":"2012-09-26","v":0},{"s":"Obs. auto.","t":"2012-09-30","v":0},{"s":"Obs. auto.","t":"2012-10-04","v":0},{"s":"Obs. auto.","t":"2012-10-08","v":0},{"s":"Obs. auto.","t":"2012-10-12","v":0},{"s":"Obs. auto.","t":"2012-10-16","v":0},{"s":"Obs. auto.","t":"2012-10-20","v":0},
{"s":"Obs. auto.","t":"2012-10-24","v":60},{"s":"Obs. auto.","t":"2012-10-26","v":98},{"s":"Obs. auto.","t":"2012-10-28","v":94},{"s":"Obs. auto.","t":"2012-10-30","v":88},{"s":"Obs. auto.","t":"2012-11-01","v":72},{"s":"Obs. auto.","t":"2012-11-03","v":55},{"s":"Obs. auto.","t":"2012-11-05","v":45},{"s":"Obs. auto.","t":"2012-11-07","v":37},{"s":"Obs. auto.","t":"2012-11-08","v":30},{"s":"Obs. auto.","t":"2012-11-10","v":11},{"s":"Obs. auto.","t":"2012-11-12","v":2},{"s":"Obs. auto.","t":"2012-11-15","v":0},{"s":"Obs. auto.","t":"2012-11-18","v":0},{"s":"Obs. auto.","t":"2012-11-21","v":0},{"s":"Obs. auto.","t":"2012-11-24","v":40},{"s":"Obs. auto.","t":"2012-11-26","v":97},{"s":"Obs. auto.","t":"2012-11-28","v":110},{"s":"Obs. auto.","t":"2012-11-30","v":140},{"s":"Obs. auto.","t":"2012-12-02","v":160},{"s":"Obs. auto.","t":"2012-12-04","v":175},{"s":"Obs. auto.","t":"2012-12-06","v":200},{"s":"Obs. auto.","t":"2012-12-08","v":223},{"s":"Obs. auto.","t":"2012-12-10","v":245},{"s":"Obs. auto.","t":"2012-12-12","v":261},{"s":"Obs. auto.","t":"2012-12-14","v":272},{"s":"Obs. auto.","t":"2012-12-16","v":278},{"s":"Obs. auto.","t":"2012-12-18","v":283},{"s":"Obs. auto.","t":"2012-12-20","v":283},{"s":"Obs. auto.","t":"2012-12-22","v":276},{"s":"Obs. auto.","t":"2012-12-24","v":270},{"s":"Obs. auto.","t":"2012-12-27","v":268},{"s":"Obs. auto.","t":"2012-12-30","v":280},{"s":"Obs. auto.","t":"2013-01-01","v":288},{"s":"Obs. auto.","t":"2013-01-03","v":290},{"s":"Obs. auto.","t":"2013-01-05","v":294},{"s":"Obs. auto.","t":"2013-01-08","v":298},{"s":"Obs. auto.","t":"2013-01-10","v":312},{"s":"Obs. auto.","t":"2013-01-12","v":328},{"s":"Obs. auto.","t":"2013-01-14","v":360},{"s":"Obs. auto.","t":"2013-01-15","v":372},{"s":"Obs. auto.","t":"2013-01-17","v":385},{"s":"Obs. auto.","t":"2013-01-19","v":395},{"s":"Obs. auto.","t":"2013-01-21","v":405},{"s":"Obs. auto.","t":"2013-01-22","v":417},{"s":"Obs. auto.","t":"2013-01-24","v":425},{"s":"Obs. auto.","t":"2013-01-26","v":432},{"s":"Obs. auto.","t":"2013-01-29","v":440},{"s":"Obs. auto.","t":"2013-01-31","v":470},{"s":"Obs. auto.","t":"2013-02-02","v":492},{"s":"Obs. auto.","t":"2013-02-04","v":520},{"s":"Obs. auto.","t":"2013-02-05","v":544},{"s":"Obs. auto.","t":"2013-02-07","v":565},{"s":"Obs. auto.","t":"2013-02-09","v":588},{"s":"Obs. auto.","t":"2013-02-11","v":605},{"s":"Obs. auto.","t":"2013-02-12","v":618},{"s":"Obs. auto.","t":"2013-02-14","v":622},{"s":"Obs. auto.","t":"2013-02-17","v":626},{"s":"Obs. auto.","t":"2013-02-19","v":630},{"s":"Obs. auto.","t":"2013-02-22","v":633},{"s":"Obs. auto.","t":"2013-02-24","v":625},{"s":"Obs. auto.","t":"2013-02-27","v":618},{"s":"Obs. auto.","t":"2013-03-02","v":616},{"s":"Obs. auto.","t":"2013-03-05","v":615},{"s":"Obs. auto.","t":"2013-03-08","v":620},{"s":"Obs. auto.","t":"2013-03-10","v":626},{"s":"Obs. auto.","t":"2013-03-13","v":630},{"s":"Obs. auto.","t":"2013-03-16","v":633},{"s":"Obs. auto.","t":"2013-03-18","v":638},{"s":"Obs. auto.","t":"2013-03-21","v":644},{"s":"Obs. auto.","t":"2013-03-23","v":646},{"s":"Obs. auto.","t":"2013-03-26","v":648},{"s":"Obs. auto.","t":"2013-03-28","v":652},{"s":"Obs. auto.","t":"2013-03-31","v":655},{"s":"Obs. auto.","t":"2013-04-02","v":650},{"s":"Obs. auto.","t":"2013-04-04","v":644},{"s":"Obs. auto.","t":"2013-04-07","v":633},{"s":"Obs. auto.","t":"2013-04-09","v":625},{"s":"Obs. auto.","t":"2013-04-11","v":618},{"s":"Obs. auto.","t":"2013-04-13","v":566},{"s":"Obs. auto.","t":"2013-04-15","v":514},{"s":"Obs. auto.","t":"2013-04-16","v":490},{"s":"Obs. auto.","t":"2013-04-18","v":462},{"s":"Obs. auto.","t":"2013-04-20","v":448},{"s":"Obs. auto.","t":"2013-04-21","v":440},{"s":"Obs. auto.","t":"2013-04-23","v":405},{"s":"Obs. auto.","t":"2013-04-25","v":380},{"s":"Obs. auto.","t":"2013-04-26","v":343},{"s":"Obs. auto.","t":"2013-04-28","v":305},{"s":"Obs. auto.","t":"2013-04-30","v":261},{"s":"Obs. auto.","t":"2013-05-02","v":216},{"s":"Obs. auto.","t":"2013-05-03","v":171},{"s":"Obs. auto.","t":"2013-05-05","v":127},{"s":"Obs. auto.","t":"2013-05-07","v":82},{"s":"Obs. auto.","t":"2013-05-09","v":60},{"s":"Obs. auto.","t":"2013-05-10","v":30},{"s":"Obs. auto.","t":"2013-05-12","v":18},{"s":"Obs. auto.","t":"2013-05-15","v":11},{"s":"Obs. auto.","t":"2013-05-18","v":12},{"s":"Obs. auto.","t":"2013-05-22","v":15},{"s":"Obs. auto.","t":"2013-05-25","v":10},{"s":"Obs. auto.","t":"2013-05-29","v":7},{"s":"Obs. auto.","t":"2013-06-02","v":4},{"s":"Obs. auto.","t":"2013-06-05","v":3},{"s":"Obs. auto.","t":"2013-06-10","v":0},{"s":"Obs. auto.","t":"2013-06-15","v":0},{"s":"Obs. auto.","t":"2013-06-20","v":0}
]
},
"vconcat": [
{
"title": {"text": "A", "fontWeight": "bold", "anchor": "start", "frame": "bounds", "dx": -14, "offset": -4},
"resolve": {"scale": {"color": "independent", "shape": "independent", "strokeDash": "independent"}, "legend": {"color": "independent", "shape": "independent", "strokeDash": "independent"}},
"vconcat": [
{
"title": {"text": "LM-GLASS implicit melt", "anchor": "start", "frame": "group", "dx": -5, "offset": -10},
"width": 1048, "height": 358,
"layer": [
{"data": {"name": "obs"}, "transform": [{"filter": "datum.s === 'Obs. auto.'"}],
 "mark": {"type": "point", "filled": true, "opacity": 1, "size": 1225},
 "encoding": {
  "x": {"field": "t", "type": "temporal", "scale": {"domain": ["2010-08-01", "2013-07-30"]}, "axis": {"title": "Time", "format": "%Y-%m", "tickCount": {"interval": "month", "step": 4}}},
  "y": {"field": "v", "type": "quantitative", "scale": {"domain": [0, 800], "nice": false}, "axis": {"title": "Snow SWE [Kg/m2]", "tickCount": 8}},
  "color": {"field": "s", "type": "nominal", "title": null, "scale": {"domain": ["dt = 5 min", "dt = 10 min", "dt = 30 min", "Obs. man.", "Obs. auto."], "range": ["#ffd700", "#ff8c00", "#b22222", "black", "black"]}},
  "shape": {"field": "s", "type": "nominal", "title": null, "scale": {"domain": ["dt = 5 min", "dt = 10 min", "dt = 30 min", "Obs. man.", "Obs. auto."], "range": ["M-2.5,0H2.5", "M-2.5,0H2.5", "M-2.5,0H2.5", "M-0.4,0A0.4,0.4,0,1,1,0.4,0A0.4,0.4,0,1,1,-0.4,0Z", "M0,-0.2L0.047,-0.065L0.19,-0.062L0.076,0.025L0.118,0.162L0,0.08L-0.118,0.162L-0.076,0.025L-0.19,-0.062L-0.047,-0.065Z"]}}
 }},
{"data": {"name": "obs"}, "transform": [{"filter": "datum.s === 'Obs. man.'"}],
 "mark": {"type": "point", "filled": true, "opacity": 1, "size": 756},
 "encoding": {
  "x": {"field": "t", "type": "temporal"},
  "y": {"field": "v", "type": "quantitative"},
  "color": {"field": "s", "type": "nominal", "title": null},
  "shape": {"field": "s", "type": "nominal", "title": null}
 }},
{"data": {"name": "linesA"},
 "mark": {"type": "line", "strokeWidth": 3.5, "clip": true},
 "encoding": {
  "x": {"field": "t", "type": "temporal"},
  "y": {"field": "v", "type": "quantitative"},
  "color": {"field": "s", "type": "nominal", "title": null, "legend": {"strokeColor": "#3030ff"}},
  "strokeDash": {"field": "s", "type": "nominal", "title": null, "scale": {"domain": ["dt = 5 min", "dt = 10 min", "dt = 30 min", "Obs. man.", "Obs. auto."], "range": [[1, 0], [20, 5, 4, 5], [11, 5], [1, 0], [1, 0]]}}
 }},
{"data": {"values": [{}]}, "mark": {"type": "rule", "color": "black", "strokeWidth": 1}, "encoding": {"y": {"datum": 800}}}
]
}
]
},
{
"title": {"text": "B", "fontWeight": "bold", "anchor": "start", "frame": "bounds", "dx": -14, "offset": -4},
"resolve": {"scale": {"color": "independent", "shape": "independent", "strokeDash": "independent"}, "legend": {"color": "independent", "shape": "independent", "strokeDash": "independent"}},
"vconcat": [
{
"title": {"text": "LM-GLASS explicit melt", "anchor": "start", "frame": "group", "dx": -5, "offset": -10},
"width": 1048, "height": 358,
"layer": [
{"data": {"name": "obs"}, "transform": [{"filter": "datum.s === 'Obs. auto.'"}],
 "mark": {"type": "point", "filled": true, "opacity": 1, "size": 1225},
 "encoding": {
  "x": {"field": "t", "type": "temporal", "scale": {"domain": ["2010-08-01", "2013-07-30"]}, "axis": {"title": "Time", "format": "%Y-%m", "tickCount": {"interval": "month", "step": 4}}},
  "y": {"field": "v", "type": "quantitative", "scale": {"domain": [0, 800], "nice": false}, "axis": {"title": "Snow SWE [Kg/m2]", "tickCount": 8}},
  "color": {"field": "s", "type": "nominal", "title": null, "scale": {"domain": ["dt = 5 min", "dt = 10 min", "dt = 30 min", "Obs. man.", "Obs. auto."], "range": ["#2e8b57", "#0000ff", "#000080", "black", "black"]}},
  "shape": {"field": "s", "type": "nominal", "title": null, "scale": {"domain": ["dt = 5 min", "dt = 10 min", "dt = 30 min", "Obs. man.", "Obs. auto."], "range": ["M-2.5,0H2.5", "M-2.5,0H2.5", "M-2.5,0H2.5", "M-0.4,0A0.4,0.4,0,1,1,0.4,0A0.4,0.4,0,1,1,-0.4,0Z", "M0,-0.2L0.047,-0.065L0.19,-0.062L0.076,0.025L0.118,0.162L0,0.08L-0.118,0.162L-0.076,0.025L-0.19,-0.062L-0.047,-0.065Z"]}}
 }},
{"data": {"name": "obs"}, "transform": [{"filter": "datum.s === 'Obs. man.'"}],
 "mark": {"type": "point", "filled": true, "opacity": 1, "size": 756},
 "encoding": {
  "x": {"field": "t", "type": "temporal"},
  "y": {"field": "v", "type": "quantitative"},
  "color": {"field": "s", "type": "nominal", "title": null},
  "shape": {"field": "s", "type": "nominal", "title": null}
 }},
{"data": {"name": "linesB"},
 "transform": [{"fold": ["dt = 5 min", "dt = 10 min", "dt = 30 min"], "as": ["s", "v"]}],
 "mark": {"type": "line", "strokeWidth": 3.5, "clip": true},
 "encoding": {
  "x": {"field": "t", "type": "temporal"},
  "y": {"field": "v", "type": "quantitative"},
  "color": {"field": "s", "type": "nominal", "title": null, "legend": {"strokeColor": "#cccccc"}},
  "strokeDash": {"field": "s", "type": "nominal", "title": null, "scale": {"domain": ["dt = 5 min", "dt = 10 min", "dt = 30 min", "Obs. man.", "Obs. auto."], "range": [[1, 0], [20, 5, 4, 5], [11, 5], [1, 0], [1, 0]]}}
 }},
{"data": {"values": [{}]}, "mark": {"type": "rule", "color": "black", "strokeWidth": 1}, "encoding": {"y": {"datum": 800}}}
]
}
]
}
],
"spacing": 33,
"resolve": {"scale": {"color": "independent", "shape": "independent", "strokeDash": "independent"}, "legend": {"color": "independent", "shape": "independent", "strokeDash": "independent"}},
"config": {
 "font": "DejaVu Sans",
 "view": {"stroke": null},
 "axis": {"labelFont": "DejaVu Sans", "titleFont": "DejaVu Sans", "labelFontSize": 20, "titleFontSize": 28, "titleFontWeight": "normal", "labelColor": "black", "titleColor": "black", "domainColor": "black", "domainWidth": 1.2, "tickColor": "black", "tickWidth": 1.2, "tickSize": 11, "labelPadding": 5, "grid": true, "gridColor": "#bdbdbd", "gridWidth": 1},
 "axisX": {"titlePadding": 4, "labelPadding": 4},
 "axisY": {"titlePadding": 11},
 "title": {"font": "DejaVu Sans", "fontSize": 34, "fontWeight": "normal", "color": "black", "anchor": "start"},
 "legend": {"orient": "top-left", "offset": 0, "padding": 5, "labelFont": "DejaVu Sans", "labelFontSize": 19, "labelColor": "black", "symbolSize": 400, "symbolStrokeWidth": 3, "symbolOffset": 13.5, "labelOffset": 26, "rowPadding": 7.5, "cornerRadius": 4, "fillColor": "rgba(255,255,255,0.8)", "strokeColor": "#cccccc"}
}
}
